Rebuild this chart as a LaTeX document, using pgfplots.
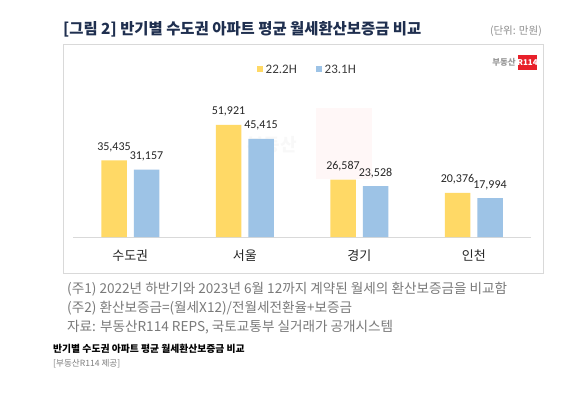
\documentclass[border=0pt]{standalone}
\usepackage{pgfplots}
\pgfplotsset{compat=1.18}
\usepackage{fontspec}
\setmainfont{Noto Sans CJK KR}
\newfontfamily\num{Carlito}
\definecolor{cYel}{HTML}{FFD966}
\definecolor{cBlu}{HTML}{9DC3E6}
\definecolor{cTitle}{HTML}{1F2F4F}
\definecolor{cGray}{HTML}{7A7A7A}
\definecolor{cTxt}{HTML}{262626}
\definecolor{cFrame}{HTML}{D9D9D9}
\definecolor{cRed}{HTML}{E8202A}
\pgfplotstableread{
x a b
0 35435 31157
1 51921 45415
2 26587 23528
3 20376 17994
}\datatable
\begin{document}
\begin{tikzpicture}[x=1pt,y=1pt]
\path[use as bounding box, fill=white] (0,0) rectangle (573,392);
% title
\node[anchor=base west, inner sep=0, text=cTitle, font=\fontsize{15.4}{18}\selectfont\bfseries] at (63,357) {[그림 2] 반기별 수도권 아파트 평균 월세환산보증금 비교};
\node[anchor=base east, inner sep=0, text=cGray!85, font=\fontsize{10.5}{12}\selectfont] at (542,357) {(단위: 만원)};
% frame
\draw[cFrame, line width=0.8pt, fill=white] (63,348) rectangle (543,119);
% logo
\fill[cRed] (518,337) rectangle (537,322);
\node[text=white, font=\fontsize{8}{9}\selectfont\bfseries, inner sep=0] at (527.5,329.5) {R114};
\node[anchor=east, text=gray!80, font=\fontsize{8.5}{9}\selectfont\bfseries, inner sep=0] at (516,329.5) {부동산};
% faint watermark
\fill[red, opacity=0.03] (316,284) rectangle (372,213);
\node[text=gray, opacity=0.05, font=\fontsize{18}{20}\selectfont\bfseries, inner sep=0] at (272,247) {부동산};
% legend
\fill[cYel] (257,326) rectangle (263,320);
\node[anchor=west, inner sep=0, text=cTxt!90, font=\num\fontsize{13}{15}\selectfont] at (265.5,323) {22.2H};
\fill[cBlu] (316,326) rectangle (322,320);
\node[anchor=west, inner sep=0, text=cTxt!90, font=\num\fontsize{13}{15}\selectfont] at (324.5,323) {23.1H};
\begin{axis}[
  at={(73pt,155pt)}, anchor=south west,
  scale only axis, width=458pt, height=129.6pt,
  xmin=-0.5, xmax=3.5, ymin=0, ymax=60000,
  axis x line*=bottom, axis y line=none,
  x axis line style={-, draw=cFrame, line width=0.8pt},
  xtick={0,1,2,3}, xticklabels={수도권,서울,경기,인천},
  major tick length=0pt,
  xticklabel style={anchor=center, yshift=-19pt, text=cTxt, font=\fontsize{13}{15}\selectfont},
  ybar, bar width=25.5pt,
  clip=false,
  nodes near coords,
  /pgf/number format/assume math mode=true,
  /pgf/number format/.cd, fixed, 1000 sep={,}, /pgfplots/.cd,
  every node near coord/.append style={anchor=base, yshift=10pt, inner sep=0pt, text=cTxt, font=\num\fontsize{12}{14}\selectfont},
]
\addplot[fill=cYel, draw=none, bar shift=-16.25pt] table[x=x, y=a] {\datatable};
\addplot[fill=cBlu, draw=none, bar shift=16.25pt] table[x=x, y=b] {\datatable};
\end{axis}
% notes
\node[anchor=west, inner sep=0, text=cGray, font=\fontsize{13.6}{15}\selectfont] at (67,103) {(주1) 2022년 하반기와 2023년 6월 12까지 계약된 월세의 환산보증금을 비교함};
\node[anchor=west, inner sep=0, text=cGray, font=\fontsize{13.6}{15}\selectfont] at (67,84) {(주2) 환산보증금=(월세X12)/전월세전환율+보증금};
\node[anchor=west, inner sep=0, text=cGray, font=\fontsize{13.6}{15}\selectfont] at (67,65) {자료: 부동산R114 REPS, 국토교통부 실거래가 공개시스템};
\node[anchor=west, inner sep=0, text=black, font=\fontsize{9.8}{11}\selectfont\bfseries] at (53,43) {반기별 수도권 아파트 평균 월세환산보증금 비교};
\node[anchor=west, inner sep=0, text=gray, font=\fontsize{8.6}{9}\selectfont] at (53,28) {[부동산R114 제공]};
\end{tikzpicture}
\end{document}
